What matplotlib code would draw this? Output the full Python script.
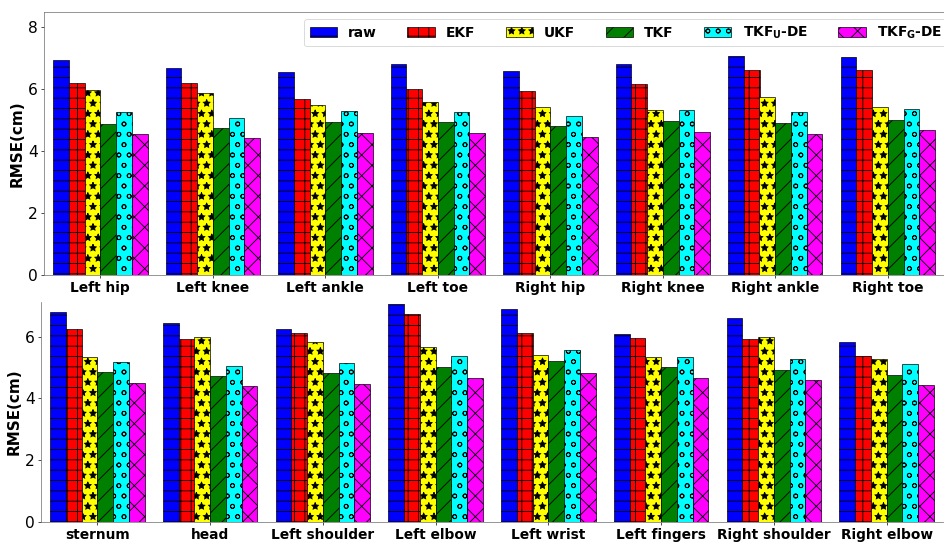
import numpy as np
import matplotlib
matplotlib.use("Agg")
import matplotlib.pyplot as plt

methods = ["raw", "EKF", "UKF", "TKF", r"TKF$_\mathbf{U}$-DE", r"TKF$_\mathbf{G}$-DE"]
colors = ["blue", "red", "yellow", "green", "cyan", "magenta"]
hatches = ["-", "+", "*", "/", "o", "x"]

joints_top = ["Left hip", "Left knee", "Left ankle", "Left toe",
              "Right hip", "Right knee", "Right ankle", "Right toe"]
joints_bottom = ["sternum", "head", "Left shoulder", "Left elbow",
                 "Left wrist", "Left fingers", "Right shoulder", "Right elbow"]

# RMSE per joint, one list per method
raw_top = [6.94, 6.68, 6.56, 6.82, 6.60, 6.81, 7.08, 7.04]
ekf_top = [6.20, 6.20, 5.70, 6.00, 5.95, 6.16, 6.63, 6.61]
ukf_top = [5.97, 5.89, 5.48, 5.58, 5.44, 5.34, 5.74, 5.44]
tkf_top = [4.89, 4.76, 4.96, 4.94, 4.81, 4.99, 4.91, 5.02]
tkfu_top = [5.27, 5.09, 5.29, 5.28, 5.15, 5.34, 5.27, 5.35]
tkfg_top = [4.57, 4.44, 4.59, 4.59, 4.47, 4.63, 4.57, 4.68]

raw_bot = [6.80, 6.43, 6.25, 7.04, 6.89, 6.07, 6.60, 5.84]
ekf_bot = [6.26, 5.92, 6.12, 6.72, 6.11, 5.97, 5.92, 5.38]
ukf_bot = [5.35, 5.98, 5.83, 5.66, 5.40, 5.35, 6.00, 5.26]
tkf_bot = [4.85, 4.72, 4.82, 5.03, 5.21, 5.01, 4.92, 4.76]
tkfu_bot = [5.19, 5.06, 5.15, 5.37, 5.56, 5.35, 5.28, 5.10]
tkfg_bot = [4.50, 4.39, 4.46, 4.67, 4.83, 4.65, 4.58, 4.42]

top_data = [raw_top, ekf_top, ukf_top, tkf_top, tkfu_top, tkfg_top]
bot_data = [raw_bot, ekf_bot, ukf_bot, tkf_bot, tkfu_bot, tkfg_bot]

plt.rcParams["hatch.linewidth"] = 1.0

fig = plt.figure(figsize=(944 / 62, 545 / 62), dpi=62)
ax1 = fig.add_axes([44 / 944, 1 - 275 / 545, 900 / 944, 263 / 545])
ax2 = fig.add_axes([41 / 944, 1 - 522 / 545, 902 / 944, 220 / 545])

width = 0.14


def draw(ax, labels, data, ymax):
    x = np.arange(len(labels))
    for i, vals in enumerate(data):
        ax.bar(x + (i - 2.5) * width, vals, width, color=colors[i],
               hatch=hatches[i], edgecolor="black", linewidth=0.8,
               label=methods[i])
    ax.set_xticks(x)
    ax.set_xticklabels(labels, fontsize=16, fontweight="bold")
    ax.set_xlim(-0.5, len(labels) - 0.5)
    ax.set_ylim(0, ymax)
    ax.set_ylabel("RMSE(cm)", fontsize=17.5, fontweight="bold")
    ax.tick_params(axis="y", labelsize=18)
    for s in ax.spines.values():
        s.set_color("dimgray")


draw(ax1, joints_top, top_data, 8.5)
draw(ax2, joints_bottom, bot_data, 7.12)
ax1.set_yticks([0, 2, 4, 6, 8])
ax2.set_yticks([0, 2, 4, 6])
ax2.spines["top"].set_visible(False)
ax2.spines["right"].set_visible(False)

ax1.legend(ncol=6, loc="upper left", bbox_to_anchor=(304 / 944, 1 - 19 / 545),
           bbox_transform=fig.transFigure, prop={"size": 16, "weight": "bold"},
           columnspacing=2.2, borderaxespad=0.0)

fig.savefig("out.png", dpi=62)
